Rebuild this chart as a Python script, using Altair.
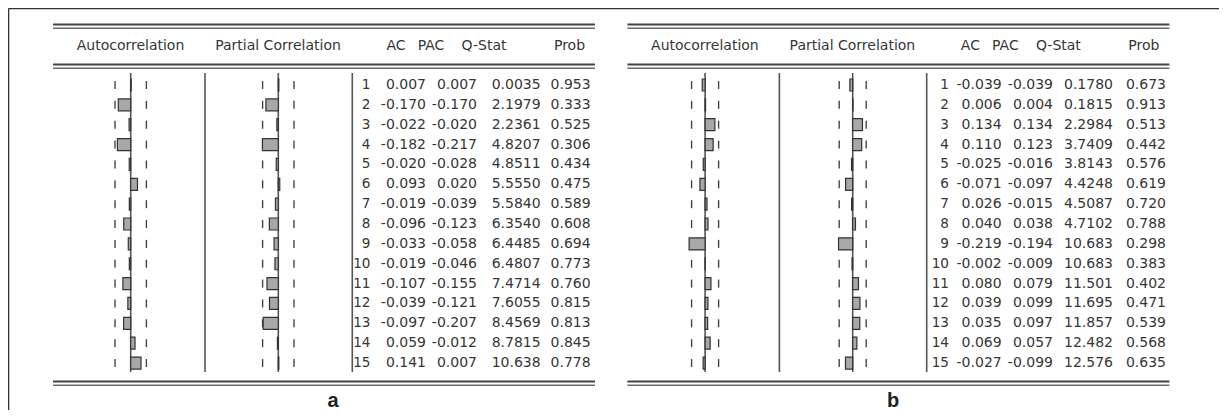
import altair as alt
import pandas as pd

# ---------------- data ----------------
lags = list(range(1, 16))

ac_a = [0.007, -0.170, -0.022, -0.182, -0.020, 0.093, -0.019, -0.096, -0.033, -0.019,
        -0.107, -0.039, -0.097, 0.059, 0.141]
pac_a = [0.007, -0.170, -0.020, -0.217, -0.028, 0.020, -0.039, -0.123, -0.058, -0.046,
         -0.155, -0.121, -0.207, -0.012, 0.007]
q_a = [0.0035, 2.1979, 2.2361, 4.8207, 4.8511, 5.5550, 5.5840, 6.3540, 6.4485, 6.4807,
       7.4714, 7.6055, 8.4569, 8.7815, 10.638]
prob_a = [0.953, 0.333, 0.525, 0.306, 0.434, 0.475, 0.589, 0.608, 0.694, 0.773,
          0.760, 0.815, 0.813, 0.845, 0.778]

ac_b = [-0.039, 0.006, 0.134, 0.110, -0.025, -0.071, 0.026, 0.040, -0.219, -0.002,
        0.080, 0.039, 0.035, 0.069, -0.027]
pac_b = [-0.039, 0.004, 0.134, 0.123, -0.016, -0.097, -0.015, 0.038, -0.194, -0.009,
         0.079, 0.099, 0.097, 0.057, -0.099]
q_b = [0.1780, 0.1815, 2.2984, 3.7409, 3.8143, 4.4248, 4.5087, 4.7102, 10.683, 10.683,
       11.501, 11.695, 11.857, 12.482, 12.576]
prob_b = [0.673, 0.913, 0.513, 0.442, 0.576, 0.619, 0.720, 0.788, 0.298, 0.383,
          0.402, 0.471, 0.539, 0.568, 0.635]

# approximate confidence bounds (dashed markers)
bound_a = 0.215
bound_b = 0.185

headers = ["Autocorrelation", "Partial Correlation", "AC", "PAC", "Q-Stat", "Prob"]
panel_labels = ["a", "b"]

# ---------------- layout / style constants ----------------
OFF = 574.4          # horizontal shift of panel b
ZERO_AC = 130.7
ZERO_PAC = 278.3
SEP1 = 205.0
SEP2 = 352.3
PX_PER_UNIT = 73.0
ROW0 = 85.0
DY = 19.86
TXT = "#363636"
LINE = "#555555"
FONT = "DejaVu Sans"

W, H = 1211, 402
XS = alt.Scale(domain=[8, 8 + W], nice=False, zero=False)
YS = alt.Scale(domain=[8, 8 + H], nice=False, zero=False, reverse=True)


def X(f):
    return alt.X(f, type="quantitative", scale=XS, axis=None)


def Y(f):
    return alt.Y(f, type="quantitative", scale=YS, axis=None)


# ---------------- tables built from the arrays ----------------
bars_df = pd.concat([
    pd.DataFrame({"panel": "a", "kind": "AC", "lag": lags, "value": ac_a, "bound": bound_a}),
    pd.DataFrame({"panel": "a", "kind": "PAC", "lag": lags, "value": pac_a, "bound": bound_a}),
    pd.DataFrame({"panel": "b", "kind": "AC", "lag": lags, "value": ac_b, "bound": bound_b}),
    pd.DataFrame({"panel": "b", "kind": "PAC", "lag": lags, "value": pac_b, "bound": bound_b}),
], ignore_index=True)


def qfmt(q):
    return f"{q:.4f}" if q < 10 else f"{q:.3f}"


def table(panel, ac, pac, q, prob):
    return pd.DataFrame({
        "panel": panel,
        "lag": lags,
        "lag_s": [str(l) for l in lags],
        "ac_s": [f"{v:.3f}" for v in ac],
        "pac_s": [f"{v:.3f}" for v in pac],
        "q_s": [qfmt(v) for v in q],
        "prob_s": [f"{v:.3f}" for v in prob],
    })


text_df = pd.concat([table("a", ac_a, pac_a, q_a, prob_a),
                     table("b", ac_b, pac_b, q_b, prob_b)], ignore_index=True)

base_calc = dict(
    zero=f"{ZERO_AC} + (datum.panel == 'b' ? {OFF} : 0) + (datum.kind == 'PAC' ? {ZERO_PAC - ZERO_AC} : 0)",
    yc=f"{ROW0} + (datum.lag - 1) * {DY}",
)

bars_base = alt.Chart(bars_df).transform_calculate(**base_calc).transform_calculate(
    xv=f"datum.zero + {PX_PER_UNIT} * datum.value",
    y0="datum.yc - 6",
    y1="datum.yc + 6",
    bl=f"datum.zero - {PX_PER_UNIT} * datum.bound",
    br=f"datum.zero + {PX_PER_UNIT} * datum.bound",
    t0="datum.yc - 4",
    t1="datum.yc + 4",
)

bars = bars_base.mark_rect(fill="#a8a8a8", stroke="#333333", strokeWidth=1.2).encode(
    x=X("zero"), x2="xv", y=Y("y0"), y2="y1")

tick_l = bars_base.mark_rule(color="#444444", strokeWidth=1.4).encode(
    x=X("bl"), y=Y("t0"), y2="t1")
tick_r = bars_base.mark_rule(color="#444444", strokeWidth=1.4).encode(
    x=X("br"), y=Y("t0"), y2="t1")

# ---------------- frame, double lines, vertical separators ----------------
frame_df = pd.DataFrame({
    "x": [8.5, 8.5], "x2": [1222, 8.5], "y": [8.5, 8.5], "y2": [8.5, 410]})
frame = alt.Chart(frame_df).mark_rule(color="#333333", strokeWidth=1.6).encode(
    x=X("x"), x2="x2", y=Y("y"), y2="y2")

dbl_rows = []
for p in range(2):
    x0 = 53 + p * OFF
    x1 = 595 + p * OFF
    for yy in (24.5, 64.5, 381.5):
        dbl_rows.append({"x": x0, "x2": x1, "y": yy, "y2": yy, "w": "thick"})
        dbl_rows.append({"x": x0, "x2": x1, "y": yy + 3.8, "y2": yy + 3.8, "w": "thin"})
dbl_df = pd.DataFrame(dbl_rows)
dbl_thick = alt.Chart(dbl_df).transform_filter("datum.w == 'thick'").mark_rule(
    color="#444444", strokeWidth=2).encode(x=X("x"), x2="x2", y=Y("y"), y2="y2")
dbl_thin = alt.Chart(dbl_df).transform_filter("datum.w == 'thin'").mark_rule(
    color="#6a6a6a", strokeWidth=1.5).encode(x=X("x"), x2="x2", y=Y("y"), y2="y2")

vrows = []
for p in range(2):
    for xx in (ZERO_AC, SEP1, ZERO_PAC, SEP2):
        vrows.append({"x": xx + p * OFF, "x2": xx + p * OFF, "y": 73, "y2": 372})
vdf = pd.DataFrame(vrows)
vlines = alt.Chart(vdf).mark_rule(color=LINE, strokeWidth=1.6).encode(
    x=X("x"), x2="x2", y=Y("y"), y2="y2")

# ---------------- texts ----------------
text_layers = []
col_right = {
    "a": {"lag_s": 370.5, "ac_s": 426, "pac_s": 477, "q_s": 540.7, "prob_s": 590.7},
    "b": {"lag_s": 949, "ac_s": 1001.7, "pac_s": 1053, "q_s": 1113, "prob_s": 1166},
}
for panel, cols in col_right.items():
    for col, xr in cols.items():
        text_layers.append(
            alt.Chart(text_df).transform_filter(f"datum.panel == '{panel}'")
            .transform_calculate(yc=f"{ROW0} + (datum.lag - 1) * {DY}")
            .mark_text(align="right", baseline="middle", font=FONT,
                       fontSize=13.6 if col == "lag_s" else 14, color=TXT)
            .encode(x=alt.value(xr - 8), y=Y("yc"), text=alt.Text(f"{col}:N"))
        )

hdr_pos = [130.5, 278, 396, 431, 484, 569.5]
hdr_df = pd.DataFrame({
    "label": headers * 2,
    "x": hdr_pos + [v + OFF for v in hdr_pos],
    "y": [45.5] * 12,
})
hdr = alt.Chart(hdr_df).mark_text(align="center", baseline="middle", font=FONT,
                                  fontSize=14, color=TXT).encode(
    x=X("x"), y=Y("y"), text="label:N")

lab_df = pd.DataFrame({"label": panel_labels, "x": [333, 893], "y": [406.5, 406.5]})
labs = alt.Chart(lab_df).mark_text(align="center", baseline="alphabetic", font="Liberation Sans",
                                   fontSize=20, fontWeight="bold", color="#222222").encode(
    x=X("x"), y=Y("y"), text="label:N")

chart = alt.layer(
    frame, dbl_thick, dbl_thin, vlines, tick_l, tick_r, bars, hdr, labs, *text_layers
).properties(
    width=W, height=H, padding=0, autosize=alt.AutoSizeParams(type="none")
).configure_view(strokeWidth=0).configure(background="white")

chart.save("out.html", embed_options={"renderer": "svg", "actions": False})
